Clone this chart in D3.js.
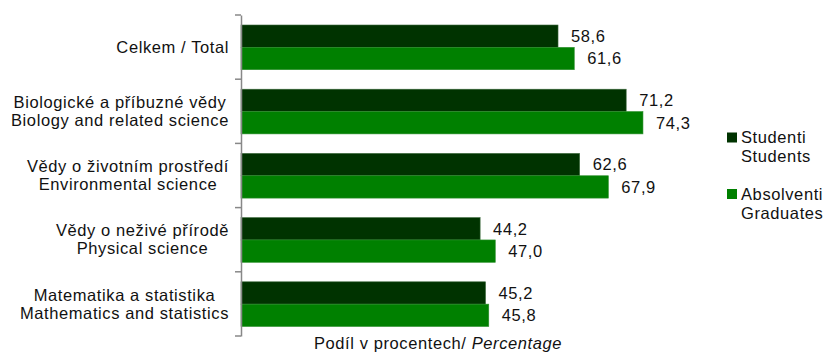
<!DOCTYPE html>
<html>
<head>
<meta charset="utf-8">
<script src="https://cdn.jsdelivr.net/npm/d3@7"></script>
<style>
  body { margin: 0; background: #fff; }
  text { font-family: "Liberation Sans", Arial, sans-serif; font-size: 16.5px; fill: #111; letter-spacing: 0.6px; }
</style>
</head>
<body>
<script>
// data
var categories = [
  ["Celkem / Total"],
  ["Biologické a příbuzné vědy", "Biology and related science"],
  ["Vědy o životním prostředí", "Environmental science"],
  ["Vědy o neživé přírodě", "Physical science"],
  ["Matematika a statistika", "Mathematics and statistics"]
];
var studenti = [58.6, 71.2, 62.6, 44.2, 45.2];
var absolventi = [61.6, 74.3, 67.9, 47.0, 45.8];
var seriesNames = [["Studenti", "Students"], ["Absolventi", "Graduates"]];
var colours = ["#003300", "#008000"];

var w = 827, h = 354;
var svg = d3.select("body").append("svg")
  .attr("width", w)
  .attr("height", h);

var x = d3.scaleLinear().domain([0, 100]).range([241, 782]);
var y = d3.scaleBand().domain(d3.range(categories.length)).range([15, 336]);
var sub = d3.scaleBand().domain([0, 1]).range([10, y.bandwidth() - 9.5]);

var fmt = d3.formatLocale({ decimal: ",", thousands: " ", grouping: [3], currency: ["", ""] }).format(".1f");

var series = [studenti, absolventi];

// bars
series.forEach(function(vals, s) {
  var g = svg.append("g");
  g.selectAll("rect")
    .data(vals)
    .enter()
    .append("rect")
    .attr("x", x(0))
    .attr("y", function(d, i) { return y(i) + sub(s); })
    .attr("width", function(d) { return x(d) - x(0); })
    .attr("height", sub.bandwidth())
    .attr("fill", colours[s])
    .attr("stroke", s === 0 ? "#3d6a3d" : "#2e8f2e")
    .attr("stroke-width", 0.6);

  g.selectAll("text")
    .data(vals)
    .enter()
    .append("text")
    .attr("x", function(d) { return x(d) + 13; })
    .attr("y", function(d, i) { return y(i) + sub(s) + sub.bandwidth() / 2; })
    .attr("dy", "0.35em")
    .text(function(d) { return fmt(d); });
});

// axis (vertical line + ticks between categories)
var axis = d3.axisLeft(y).tickSize(0).tickFormat("");
var ax = svg.append("g").attr("transform", "translate(" + x(0) + ",0)").call(axis);
ax.select(".domain").attr("stroke", "#888").attr("stroke-width", 1.5);
ax.selectAll(".tick").remove();
ax.selectAll(".sep")
  .data(d3.range(categories.length + 1))
  .enter()
  .append("line")
  .attr("x1", -6).attr("x2", 0)
  .attr("y1", function(i) { return i < categories.length ? y(i) : y.range()[1]; })
  .attr("y2", function(i) { return i < categories.length ? y(i) : y.range()[1]; })
  .attr("stroke", "#888")
  .attr("stroke-width", 1.5);

// category labels: centred block, right edge at 229
categories.forEach(function(lines, i) {
  var g = svg.append("g");
  var cy = y(i) + y.bandwidth() / 2;
  lines.forEach(function(t, j) {
    g.append("text")
      .attr("text-anchor", "middle")
      .attr("x", 0)
      .attr("y", cy + (j - (lines.length - 1) / 2) * 18)
      .attr("dy", "0.35em")
      .text(t);
  });
  var bb = g.node().getBBox();
  g.attr("transform", "translate(" + (229 - (bb.x + bb.width)) + ",0)");
});

// legend
var legY = [137.5, 194];
seriesNames.forEach(function(names, s) {
  svg.append("rect")
    .attr("x", 727).attr("y", legY[s] - 5)
    .attr("width", 10).attr("height", 10)
    .attr("fill", colours[s]);
  names.forEach(function(t, j) {
    svg.append("text")
      .attr("x", 741)
      .attr("y", legY[s] + j * 19)
      .attr("dy", "0.35em")
      .text(t);
  });
});

// axis title
var title = svg.append("text")
  .attr("x", 438)
  .attr("y", 343)
  .attr("dy", "0.35em")
  .attr("text-anchor", "middle");
title.append("tspan").text("Podíl v procentech/ ");
title.append("tspan").attr("font-style", "italic").text("Percentage");
</script>
</body>
</html>
